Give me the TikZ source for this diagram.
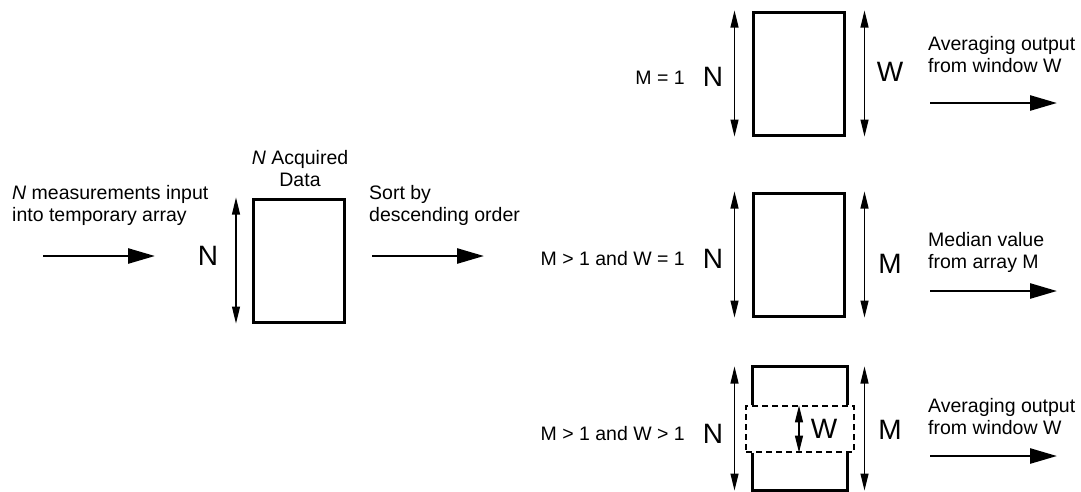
\documentclass[tikz,border=0pt]{standalone}
\usepackage{fontspec}
\setmainfont{Liberation Sans}
\usetikzlibrary{arrows.meta,positioning}

\tikzset{
	databox/.style={draw, line width=3pt, miter limit=4, minimum width=91pt, minimum height=123pt, inner sep=0pt},
	flowarrow/.style={-{Triangle[length=27pt,width=15pt]}, line width=2.6pt},
	dimarrow/.style={{Triangle[length=17pt,width=8pt]}-{Triangle[length=17pt,width=8pt]}, line width=1.2pt},
	note/.style={font=\fontsize{19.5}{22}\selectfont, inner sep=0pt},
	biglabel/.style={font=\fontsize{28}{32}\selectfont, inner sep=0pt},
}

\begin{document}
\begin{tikzpicture}[x=1pt,y=-1pt]
	\useasboundingbox (0,0) rectangle (1081,491);

	% acquired data
	\node[databox] (acq) at (299,260.5) {};
	\node[note, align=center] (acqtxt) at (300,169) {\textit{N} Acquired\\Data};
	\node[biglabel] (acqN) at (208,256) {N};
	\draw[dimarrow] ([xshift=-16pt]acq.north west) -- ([xshift=-16pt]acq.south west);

	\node[note, align=left, anchor=west] (intxt) at (12,205) {\textit{N} measurements input\\into temporary array};
	\coordinate (in1) at (43,256);
	\coordinate (in2) at (155,256);
	\draw[flowarrow] (in1) -- (in2);

	\node[note, align=left, anchor=west] (sorttxt) at (369,205) {Sort by\\descending order};
	\coordinate (sort1) at (372,256);
	\coordinate (sort2) at (484,256);
	\draw[flowarrow] (sort1) -- (sort2);

	% M = 1
	\node[databox] (boxA) at (798.5,73.5) {};
	\node[note, anchor=east] (condA) at (685,78) {M = 1};
	\node[biglabel] (NA) at (713,77) {N};
	\node[biglabel] (WA) at (890,72) {W};
	\draw[dimarrow] ([xshift=-17pt]boxA.north west) -- ([xshift=-17pt]boxA.south west);
	\draw[dimarrow] ([xshift=19pt]boxA.north east) -- ([xshift=19pt]boxA.south east);
	\node[note, align=left, anchor=west] (outA) at (928,55) {Averaging output\\from window W};
	\coordinate (a1) at (930,103);
	\coordinate (a2) at (1057,103);
	\draw[flowarrow] (a1) -- (a2);

	% M > 1 and W = 1
	\node[databox] (boxB) at (798.5,254.5) {};
	\node[note, anchor=east] (condB) at (685,259) {M > 1 and W = 1};
	\node[biglabel] (NB) at (713,259) {N};
	\node[biglabel] (MB) at (890,264) {M};
	\draw[dimarrow] ([xshift=-17pt]boxB.north west) -- ([xshift=-17pt]boxB.south west);
	\draw[dimarrow] ([xshift=19pt]boxB.north east) -- ([xshift=19pt]boxB.south east);
	\node[note, align=left, anchor=west] (outB) at (928,252) {Median value\\from array M};
	\coordinate (b1) at (930,291);
	\coordinate (b2) at (1057,291);
	\draw[flowarrow] (b1) -- (b2);

	% M > 1 and W > 1
	\node[databox, draw=none, minimum width=92pt, minimum height=121pt] (boxC) at (800,428.5) {};
	\node[draw, dash pattern=on 6pt off 4pt, line width=1.2pt, minimum width=108pt, minimum height=46pt, inner sep=0pt] (win) at (800,429) {};
	\draw[line width=3pt] (boxC.west |- win.north) -- (boxC.north west) -- (boxC.north east) -- (boxC.east |- win.north);
	\draw[line width=3pt] (boxC.west |- win.south) -- (boxC.south west) -- (boxC.south east) -- (boxC.east |- win.south);
	\draw[dimarrow] ([xshift=-1pt]win.north) -- ([xshift=-1pt]win.south);
	\node[biglabel] (WC) at (824,429) {W};
	\node[note, anchor=east] (condC) at (685,434) {M > 1 and W > 1};
	\node[biglabel] (NC) at (713,434) {N};
	\node[biglabel] (MC) at (890,430) {M};
	\draw[dimarrow] ([xshift=-18pt]boxC.north west) -- ([xshift=-18pt]boxC.south west);
	\draw[dimarrow] ([xshift=17pt]boxC.north east) -- ([xshift=17pt]boxC.south east);
	\node[note, align=left, anchor=west] (outC) at (928,417) {Averaging output\\from window W};
	\coordinate (c1) at (930,456);
	\coordinate (c2) at (1057,456);
	\draw[flowarrow] (c1) -- (c2);
\end{tikzpicture}
\end{document}
